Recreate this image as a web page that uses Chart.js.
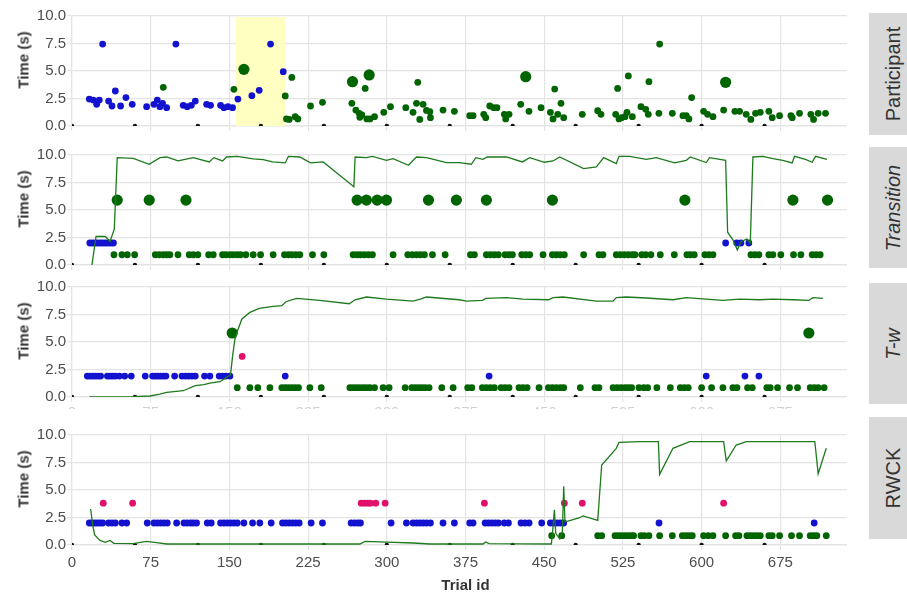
<!DOCTYPE html>
<html><head><meta charset="utf-8">
<script src="https://cdn.jsdelivr.net/npm/chart.js@4.4.1/dist/chart.umd.min.js"></script>
<style>
html,body{margin:0;padding:0;background:#fff;width:907px;height:594px;overflow:hidden;font-family:"Liberation Sans",Arial,sans-serif;}
.panel{position:absolute;left:0;width:847px;overflow:hidden;}
.panel canvas{position:absolute;left:0;top:0;}
.strip{position:absolute;left:869px;width:48px;background:#d9d9d9;}
.strip span{position:absolute;left:50%;top:50%;transform:translate(-50%,-50%) rotate(-90deg);font-size:20px;color:#333;white-space:nowrap;}
.ytitle{position:absolute;left:23px;transform:translate(-50%,-50%) rotate(-90deg);font-size:15px;font-weight:bold;color:#333;white-space:nowrap;}
</style></head><body>
<script>
// ---------- data ----------
const panelNames = ['Participant','Transition','T-w','RWCK'];
const xTickStep = 75;
const yTickStep = 2.5;
const markerTrials = [[0,0],[60,0],[120,0],[180,0],[240,0],[300,0],[360,0],[420,0],[480,0],[540,0],[600,0],[660,0]];
const highlightTrials = [156, 203];
const highlightTimes = [0, 9.9];

// Participant
const p1Blue = [[16.5,2.45],[20.3,2.36],[23.5,1.97],[26,2.36],[29.2,7.45],[34.9,2.27],[38.1,1.82],[41.3,3.18],[46.3,1.82],[51.4,2.58],[57.4,1.97],[71.1,1.76],[78.1,1.97],[81.3,2.36],[83.8,1.76],[86.3,2.06],[90.2,1.67],[99,7.45],[106,1.88],[109.8,1.76],[113.7,1.88],[117.5,2.27],[128.3,1.97],[132,1.88],[141.6,1.88],[144.8,1.67],[148.6,1.76],[153,1.67],[158.1,2.45],[171.4,2.76],[178.4,3.24],[189.2,7.45],[201.3,4.94]];
const p1Green = [[87,3.52],[154.3,3.33],[203.2,2.73],[209.5,4.42],[204.4,0.64],[207,0.6],[212.7,0.85],[215.2,0.64],[227.3,1.82],[238.7,2.15],[266.7,2.06],[270.5,1.45],[273.7,1.15],[276.2,1.0],[274.3,0.79],[279.4,3.42],[281,0.64],[284,0.64],[288.3,0.85],[297.1,1.24],[303.5,1.76],[318.1,1.67],[325,1.24],[328.3,2.06],[329.5,3.97],[331.4,0.6],[334.6,1.97],[337.8,1.42],[341,1.3],[341.6,0.76],[353.6,1.45],[364.4,1.33],[379,0.94],[382.2,0.94],[392.4,1.06],[394.3,0.76],[398.1,1.82],[401.9,1.67],[405,1.67],[412,1.06],[413.3,0.64],[416.5,1.06],[427.6,1.97],[435.5,1.33],[447,1.67],[455.9,1.24],[460,3.36],[458.4,0.64],[462.9,1.06],[466,2.06],[468.6,0.76],[486.3,1.06],[501,1.39],[504.1,1.06],[518.1,1.06],[520,3.42],[521.3,0.64],[523.8,0.76],[527,0.85],[528.9,1.24],[530.2,4.55],[534,0.85],[542.2,1.76],[546.7,1.52],[549.2,1.06],[549.8,4.03],[559.3,1.15],[560,7.45],[572.1,1.15],[582.2,0.94],[585.4,0.94],[587.9,0.64],[590.5,2.58],[601.9,1.33],[605.7,1.06],[610.8,0.85],[621,1.45],[631.7,1.33],[636.2,1.33],[642.5,1.06],[646.9,0.6],[651.4,1.15],[655.9,1.24],[664.1,1.33],[667.3,0.76],[674.3,0.94],[685.1,0.94],[686.4,0.76],[693.3,1.15],[704.1,1.06],[706.7,0.6],[711.1,1.15],[718.1,1.15]];
const p1Big = [[163.8,5.15],[267.3,4.03],[283.2,4.64],[432.4,4.48],[622.9,3.97]];

// Transition
const p2Line = [[19,0],[22.9,2.59],[31.8,2.59],[36.2,2.14],[40.3,3.25],[43.1,9.76],[58.4,9.7],[73.6,9.16],[83.8,9.76],[90.2,9.82],[101,9.46],[115.6,9.76],[130.8,9.37],[135.2,9.76],[143.5,9.46],[147.3,9.82],[157.5,9.88],[172.7,9.64],[182.2,9.58],[191.1,9.37],[203.2,9.28],[206.3,9.88],[217.1,9.82],[227.3,9.28],[239.4,9.37],[268.6,7.11],[269.8,9.82],[280.6,9.76],[286.3,9.88],[299.7,9.52],[306,9.67],[320.6,9.07],[328.3,9.82],[337.8,9.76],[356.9,9.3],[368.9,9.3],[380.6,9.16],[384.8,9.76],[391.7,9.61],[395.6,9.82],[414,9.82],[429.2,9.37],[436.2,9.76],[450.2,9.34],[458.4,9.46],[464.8,9.82],[487.6,8.77],[499.7,8.92],[506.7,9.76],[518.7,9.22],[521.3,9.88],[531.4,9.88],[547.3,9.61],[556.8,9.76],[574.3,9.28],[585.4,9.52],[589.2,9.82],[604.4,9.31],[607.6,9.76],[622.9,9.52],[624.8,2.98],[629.8,2.29],[634,1.38],[637.8,2.14],[643.2,2.35],[646.4,2.0],[648.9,9.82],[658.4,9.88],[667.9,9.67],[677.4,9.52],[686.3,9.28],[688.6,9.88],[699,9.61],[705.4,9.34],[708.6,9.88],[719.4,9.61]];
const p2Blue = [[17,2],[19.5,2],[22,2],[24.5,2],[27,2],[29.5,2],[32,2],[34.5,2],[37,2],[39.5,2],[622.9,2],[633.5,2],[637.5,2],[645,2]];
const p2Green = [[40,0.93],[47.6,0.93],[52.7,0.93],[59.7,0.93],[79.4,0.93],[83.2,0.93],[87,0.93],[90.2,0.93],[93.3,0.93],[101,0.93],[111.7,0.93],[115.6,0.93],[120,0.93],[130.2,0.93],[134.6,0.93],[143.5,0.93],[146.7,0.93],[150.5,0.93],[153.7,0.93],[157.5,0.93],[160.6,0.93],[165.7,0.93],[172.7,0.93],[179.7,0.93],[191.7,0.93],[202.5,0.93],[206.3,0.93],[209.5,0.93],[213.3,0.93],[217.1,0.93],[229.2,0.93],[240,0.93],[267.9,0.93],[271.7,0.93],[274.9,0.93],[278.7,0.93],[282.5,0.93],[286.3,0.93],[306,0.93],[320,0.93],[324.4,0.93],[328.3,0.93],[332.1,0.93],[335.9,0.93],[343.5,0.93],[355.6,0.93],[379.7,0.93],[383.5,0.93],[394.9,0.93],[398.7,0.93],[402.5,0.93],[406.3,0.93],[412.7,0.93],[416.5,0.93],[419.7,0.93],[428.6,0.93],[432.4,0.93],[436.2,0.93],[448.9,0.93],[457.8,0.93],[461.6,0.93],[465.4,0.93],[469.2,0.93],[487.6,0.93],[502.2,0.93],[506,0.93],[518.7,0.93],[522.6,0.93],[526.4,0.93],[530.2,0.93],[534,0.93],[536.5,0.93],[542.9,0.93],[546.7,0.93],[551.7,0.93],[560.6,0.93],[574,0.93],[586,0.93],[589.2,0.93],[593,0.93],[603.1,0.93],[606.9,0.93],[610.8,0.93],[647,0.93],[650.8,0.93],[654.6,0.93],[664.1,0.93],[667.9,0.93],[675.5,0.93],[687.6,0.93],[694.6,0.93],[705.4,0.93],[709.2,0.93],[713,0.93]];
const p2Big = [[43.1,5.9],[73.6,5.9],[108.6,5.9],[271.7,5.9],[280.6,5.9],[290.8,5.9],[299.7,5.9],[339.7,5.9],[366.3,5.9],[394.9,5.9],[457.8,5.9],[584.1,5.9],[687,5.9],[720,5.9]];

// T-w
const p3Line = [[16.5,0],[58.4,0.03],[74.3,0.09],[83.8,0.27],[90.2,0.42],[106,0.57],[117.5,1.03],[125.7,1.12],[131.4,1.27],[141,1.39],[147.3,1.78],[151.1,2.03],[153,3.69],[155.2,5.21],[158.1,6.12],[161.9,7.09],[169.5,7.69],[178.4,8.05],[191.7,8.24],[200,8.3],[203.8,8.66],[214,8.96],[236.2,8.78],[264.1,8.48],[269.8,8.84],[280.6,9.09],[299.7,8.9],[325,8.72],[332,8.9],[337.8,9.09],[368.9,8.84],[375.9,8.72],[391.1,8.78],[394.3,8.96],[414,9.03],[429.8,8.9],[454,8.84],[458.4,9.03],[467.9,9.09],[499.7,8.72],[515.6,8.72],[518.7,9.03],[528.2,9.09],[547.3,9.0],[572.7,8.84],[585.4,9.03],[604.4,8.9],[620.3,8.78],[636.2,8.9],[655.2,8.84],[667.9,8.9],[687,8.84],[702.2,8.78],[706,9.03],[715.6,8.96]];
const p3Blue = [[14.6,1.9],[17.1,1.9],[19.7,1.9],[22.2,1.9],[24.8,1.9],[27.3,1.9],[33.7,1.9],[36.2,1.9],[38.7,1.9],[41.3,1.9],[45.1,1.9],[50.2,1.9],[56.5,1.9],[69.8,1.9],[76.8,1.9],[79.4,1.9],[81.9,1.9],[84.4,1.9],[87,1.9],[89.5,1.9],[97.8,1.9],[104.8,1.9],[108,1.9],[111.1,1.9],[114.3,1.9],[117.5,1.9],[126.3,1.9],[131.4,1.9],[140.3,1.9],[143.5,1.9],[146.7,1.9],[150.5,1.9],[203.2,1.9],[397.5,1.9],[604.4,1.9],[641.3,1.9],[654.6,1.9]];
const p3Green = [[157.5,0.85],[169.5,0.85],[177.1,0.85],[188.6,0.85],[200,0.85],[203.2,0.85],[206.3,0.85],[209.5,0.85],[212.7,0.85],[215.9,0.85],[226.7,0.85],[237.5,0.85],[264.8,0.85],[268,0.85],[271.1,0.85],[274.3,0.85],[277.5,0.85],[280.6,0.85],[283.8,0.85],[288.3,0.85],[296.5,0.85],[302.2,0.85],[317.5,0.85],[323.8,0.85],[327,0.85],[330.2,0.85],[333.3,0.85],[336.5,0.85],[340.3,0.85],[352.4,0.85],[363.2,0.85],[377.1,0.85],[381,0.85],[391.1,0.85],[394.9,0.85],[398.7,0.85],[402.5,0.85],[408.9,0.85],[412.7,0.85],[416.5,0.85],[426,0.85],[429.8,0.85],[433.7,0.85],[445.1,0.85],[454,0.85],[457.8,0.85],[461.6,0.85],[465.4,0.85],[468.6,0.85],[484.4,0.85],[498.4,0.85],[502.2,0.85],[515.6,0.85],[519.4,0.85],[523.2,0.85],[527,0.85],[530.2,0.85],[533.3,0.85],[540.3,0.85],[544.8,0.85],[548.6,0.85],[557.4,0.85],[570.2,0.85],[579.7,0.85],[583.5,0.85],[587.3,0.85],[600,0.85],[609.5,0.85],[620.3,0.85],[629.8,0.85],[633.7,0.85],[643.8,0.85],[648.3,0.85],[662.2,0.85],[665.4,0.85],[672.4,0.85],[683.8,0.85],[691.4,0.85],[703.5,0.85],[707.3,0.85],[711.1,0.85],[716.8,0.85]];
const p3Big = [[152.7,5.82],[702.2,5.82]];
const p3Magenta = [[162.2,3.69]];

// RWCK
const p4Line = [[17.8,3.27],[19.7,1.82],[21.6,0.91],[26.7,0.42],[31.7,0.24],[36.2,0.42],[40,0.15],[58.4,0.12],[71.1,0.33],[80.6,0.21],[90.2,0.09],[274.3,0.09],[279.4,0.33],[299.7,0.27],[325,0.18],[341,0.09],[391.7,0.09],[394.3,0.27],[397.5,0.12],[456.8,0.09],[457.8,0.91],[459.7,3.21],[461,1.06],[464.8,0.55],[467.3,1.21],[468.6,5.33],[469.8,2.12],[471.1,2.12],[483.8,2.48],[487,2.64],[501,2.24],[504.8,7.27],[518.7,8.79],[521.3,9.33],[541,9.39],[558.8,9.39],[560,6.42],[572.7,8.79],[588.6,9.39],[621,9.39],[623.5,7.64],[633,9.09],[642.5,9.39],[707.9,9.39],[711.1,6.48],[718.8,8.79]];
const p4Blue = [[16.5,2],[19,2],[21.6,2],[24.1,2],[26.7,2],[29.2,2],[34.9,2],[38.1,2],[41.3,2],[47.6,2],[52.1,2],[71.7,2],[78.1,2],[81.3,2],[84.4,2],[87.6,2],[90.8,2],[99.7,2],[106.7,2],[109.8,2],[113,2],[115.6,2],[118.7,2],[128.9,2],[132.7,2],[141.6,2],[144.8,2],[147.9,2],[151.1,2],[154.3,2],[157.5,2],[163.8,2],[172.1,2],[179,2],[189.8,2],[200.6,2],[203.8,2],[207,2],[210.2,2],[213.3,2],[216.5,2],[227.9,2],[238.7,2],[266,2],[269.2,2],[272.4,2],[274.9,2],[304.1,2],[318.7,2],[325,2],[328.3,2],[331.4,2],[334.6,2],[337.8,2],[341.6,2],[353.6,2],[364.4,2],[379,2],[382.2,2],[393.7,2],[396.8,2],[400,2],[403.2,2],[406.3,2],[412,2],[415.9,2],[427.9,2],[431.7,2],[435.6,2],[447.6,2],[455.9,2],[459,2],[462.2,2],[465.4,2],[468.6,2],[559.4,2],[707.3,2]];
const p4Magenta = [[29.8,3.8],[57.8,3.8],[275.6,3.8],[278.7,3.8],[281.9,3.8],[284.4,3.8],[289.5,3.8],[298.4,3.8],[393,3.8],[469.2,3.8],[486.3,3.8],[621,3.8]];
const p4Green = [[457.1,0.85],[466.7,0.85],[501,0.85],[504.8,0.85],[517.5,0.85],[520.6,0.85],[523.8,0.85],[527,0.85],[530.2,0.85],[533.3,0.85],[535.2,0.85],[542.2,0.85],[545.4,0.85],[549.8,0.85],[560,0.85],[572.1,0.85],[581.6,0.85],[584.8,0.85],[587.9,0.85],[591.1,0.85],[601.9,0.85],[606.3,0.85],[610.8,0.85],[622.9,0.85],[632.4,0.85],[635.6,0.85],[643.2,0.85],[646.4,0.85],[649.5,0.85],[652.7,0.85],[655.9,0.85],[664.1,0.85],[667.3,0.85],[674.3,0.85],[685.7,0.85],[693.3,0.85],[703.5,0.85],[706.7,0.85],[709.8,0.85],[718.8,0.85]];

// ---------- style ----------
const FONT = '"Liberation Sans", Arial, sans-serif';
const GRID = '#e4e4e4';
const C_BLUE = '#1212cf', C_GREEN = '#006400', C_LINE = '#1d7a1d', C_MAG = '#e0106b', C_BLACK = '#111';

const layouts = [
  {name:panelNames[0], italic:false, top:6,   h:130, clip:130, xh:5,  pb:5, labels:false,   line:[],     blue:p1Blue, green:p1Green, big:p1Big, mag:[],        hl:true,  strip:[13,122], ty:59.5},
  {name:panelNames[1], italic:true,  top:145, h:130, clip:130, xh:5,  pb:5, labels:false,   line:p2Line, blue:p2Blue, green:p2Green, big:p2Big, mag:[],        hl:false, strip:[147,121], ty:198.5},
  {name:panelNames[2], italic:true,  top:277, h:150, clip:132, xh:30, pb:0, labels:'faint', line:p3Line, blue:p3Blue, green:p3Green, big:p3Big, mag:p3Magenta, hl:false, strip:[283,121], ty:331},
  {name:panelNames[3], italic:false, top:425, h:171, clip:171, xh:50, pb:1, labels:'full',  line:p4Line, blue:p4Blue, green:p4Green, big:[],    mag:p4Magenta, hl:false, strip:[417,122], ty:478.5}
];

const highlightPlugin = {
  id:'highlight',
  beforeDatasetsDraw(chart){
    const xs = chart.scales.x, ys = chart.scales.y, ctx = chart.ctx;
    const x0 = xs.getPixelForValue(highlightTrials[0]), x1 = xs.getPixelForValue(highlightTrials[1]);
    const y0 = ys.getPixelForValue(highlightTimes[1]), y1 = ys.getPixelForValue(highlightTimes[0]);
    ctx.save(); ctx.fillStyle = '#ffffc2'; ctx.fillRect(x0, y0, x1 - x0, y1 - y0); ctx.restore();
  }
};

const toXY = a => a.map(p => ({x:p[0], y:p[1]}));

layouts.forEach(L => {
  const wrap = document.createElement('div');
  wrap.className = 'panel';
  wrap.style.top = L.top + 'px';
  wrap.style.height = L.clip + 'px';
  const cv = document.createElement('canvas');
  cv.width = 907; cv.height = L.h;
  cv.style.width = '907px'; cv.style.height = L.h + 'px';
  wrap.appendChild(cv);
  document.body.appendChild(wrap);

  const strip = document.createElement('div');
  strip.className = 'strip';
  strip.style.top = L.strip[0] + 'px';
  strip.style.height = L.strip[1] + 'px';
  const sp = document.createElement('span');
  sp.textContent = L.name;
  if (L.italic) sp.style.fontStyle = 'italic';
  strip.appendChild(sp);
  document.body.appendChild(strip);

  const yt = document.createElement('div');
  yt.className = 'ytitle';
  yt.style.top = L.ty + 'px';
  yt.textContent = 'Time (s)';
  document.body.appendChild(yt);

  const datasets = [];
  if (L.line.length) datasets.push({type:'line', data:toXY(L.line), borderColor:C_LINE, borderWidth:1.3, pointRadius:0, fill:false, tension:0, order:0});
  datasets.push({data:toXY(L.mag), backgroundColor:C_MAG, pointRadius:3.4, borderWidth:0, order:1});
  datasets.push({data:toXY(L.blue), backgroundColor:C_BLUE, pointRadius:3.4, borderWidth:0, order:2});
  datasets.push({data:toXY(L.green), backgroundColor:C_GREEN, pointRadius:3.4, borderWidth:0, order:3});
  datasets.push({data:toXY(L.big), backgroundColor:C_GREEN, pointRadius:5.6, borderWidth:0, order:4});
  datasets.push({data:toXY(markerTrials), backgroundColor:C_BLACK, pointRadius:2.2, borderWidth:0, order:5});

  new Chart(cv.getContext('2d'), {
    type:'scatter',
    data:{datasets},
    plugins: L.hl ? [highlightPlugin] : [],
    options:{
      responsive:false, animation:false, events:[],
      layout:{padding:{left:0, right:48, top:10, bottom:L.pb}},
      plugins:{legend:{display:false}, tooltip:{enabled:false}},
      scales:{
        x:{type:'linear', min:0, max:750,
           ticks:{stepSize:xTickStep, display:!!L.labels, color: L.labels === 'faint' ? '#d0d0d0' : '#4d4d4d',
                  font:{family:FONT, size:15}, padding: L.labels === 'faint' ? 2 : 4, maxRotation:0, autoSkip:false},
           grid:{color:GRID, lineWidth:1.2, tickLength:5},
           border:{color:GRID, width:1.2},
           title:{display: L.labels === 'full', text:'Trial id', color:'#333', font:{family:FONT, size:15, weight:'bold'}, padding:{top:0, bottom:0}},
           afterFit:s => { s.height = L.xh; }
        },
        y:{min:0, max:10,
           ticks:{stepSize:yTickStep, color:'#4d4d4d', font:{family:FONT, size:15}, padding:1, callback:v => Number(v).toFixed(1)},
           grid:{color:GRID, lineWidth:1.2, tickLength:5},
           border:{color:GRID, width:1.2},
           afterFit:s => { s.width = 72; }
        }
      }
    }
  });
});
</script>
</body></html>
